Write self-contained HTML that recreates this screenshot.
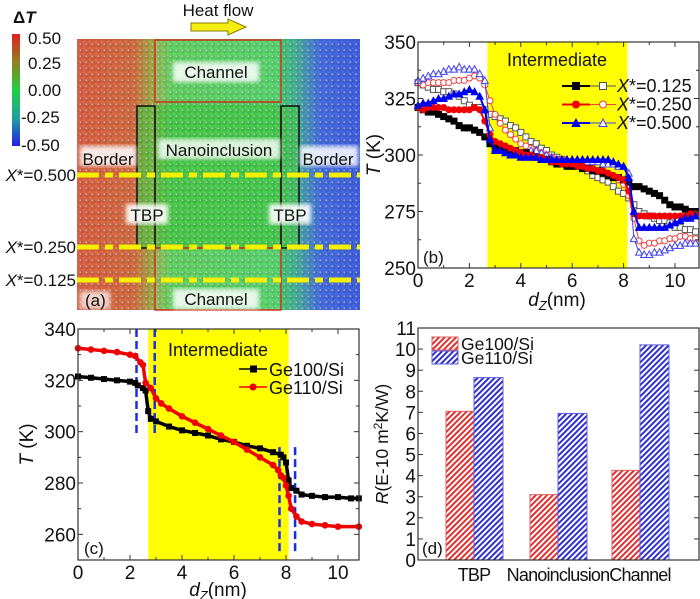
<!DOCTYPE html>
<html><head><meta charset="utf-8"><style>
body{margin:0;background:#fff;width:700px;height:599px;overflow:hidden;font-family:"Liberation Sans",sans-serif}
svg{position:absolute;left:0;top:0}
text{font-family:"Liberation Sans",sans-serif}
</style></head><body>
<svg id="fig" width="700" height="599">
<defs>
<linearGradient id="atomGrad" x1="0" x2="1" y1="0" y2="0">
<stop offset="0" stop-color="#d8401e"/><stop offset="0.2" stop-color="#d0501c"/><stop offset="0.27" stop-color="#8ea020"/><stop offset="0.33" stop-color="#30c830"/><stop offset="0.7" stop-color="#22cc40"/><stop offset="0.78" stop-color="#20a090"/><stop offset="0.86" stop-color="#2050e0"/><stop offset="1" stop-color="#1840e0"/>
</linearGradient>
<linearGradient id="cbGrad" x1="0" x2="0" y1="0" y2="1">
<stop offset="0" stop-color="#e02020"/><stop offset="0.25" stop-color="#908020"/><stop offset="0.5" stop-color="#20d040"/><stop offset="0.75" stop-color="#20a0a0"/><stop offset="1" stop-color="#2020e0"/>
</linearGradient>
<pattern id="dots" width="6" height="6" patternUnits="userSpaceOnUse">
<rect width="6" height="6" fill="rgba(255,255,255,0.18)"/><circle cx="3" cy="3" r="2.6" fill="rgba(0,0,0,0.12)"/><circle cx="2.3" cy="2.3" r="1" fill="rgba(255,255,255,0.45)"/>
</pattern>
<pattern id="hatchR" width="4" height="4" patternUnits="userSpaceOnUse" patternTransform="rotate(45)">
<rect width="4" height="4" fill="#fff"/><rect width="2" height="4" fill="#e03030"/></pattern>
<pattern id="hatchB" width="4" height="4" patternUnits="userSpaceOnUse" patternTransform="rotate(45)">
<rect width="4" height="4" fill="#fff"/><rect width="2" height="4" fill="#3030d0"/></pattern>
<filter id="glow"><feGaussianBlur stdDeviation="2"/></filter>
</defs>

<!-- Panel (a) -->
<g>
<rect x="77" y="39" width="283" height="271" fill="url(#atomGrad)"/>
<rect x="137" y="106" width="162" height="142" fill="#20c020" opacity="0.6"/>
<rect x="155" y="40" width="126" height="62" fill="#fff" opacity="0.1"/>
<rect x="155" y="248" width="126" height="62" fill="#fff" opacity="0.1"/>
<rect x="77" y="39" width="283" height="271" fill="url(#dots)"/>
<rect x="155" y="40" width="126" height="62" fill="none" stroke="#d03020" stroke-width="1.5"/>
<rect x="155" y="248" width="126" height="62" fill="none" stroke="#d03020" stroke-width="1.5"/>
<polyline points="155,106 155,248 281,248 281,106" fill="none" stroke="#d03020" stroke-width="1.5"/>
<rect x="137" y="106" width="18" height="142" fill="none" stroke="#111" stroke-width="1.5"/>
<rect x="281" y="106" width="18" height="142" fill="none" stroke="#111" stroke-width="1.5"/>
<g stroke="#f4f000" stroke-width="5" stroke-dasharray="22,6,8,6">
<line x1="77" y1="175" x2="360" y2="175"/><line x1="77" y1="247" x2="360" y2="247"/><line x1="77" y1="280" x2="360" y2="280"/></g>
<g font-size="17" fill="#111">
<rect x="173" y="62" width="86" height="20" fill="#fff" opacity="0.85" filter="url(#glow)"/>
<text x="216" y="78" text-anchor="middle">Channel</text>
<rect x="173" y="289" width="86" height="20" fill="#fff" opacity="0.85" filter="url(#glow)"/>
<text x="216" y="305" text-anchor="middle">Channel</text>
<rect x="158" y="139" width="122" height="20" fill="#fff" opacity="0.8" filter="url(#glow)"/>
<text x="219" y="156" text-anchor="middle">Nanoinclusion</text>
<rect x="80" y="146" width="56" height="20" fill="#fff" opacity="0.85" filter="url(#glow)"/>
<text x="108" y="165" text-anchor="middle">Border</text>
<rect x="300" y="146" width="58" height="20" fill="#fff" opacity="0.85" filter="url(#glow)"/>
<text x="328" y="165" text-anchor="middle">Border</text>
<rect x="126" y="204" width="42" height="20" fill="#fff" opacity="0.9" filter="url(#glow)"/>
<text x="147" y="221" text-anchor="middle">TBP</text>
<rect x="269" y="204" width="42" height="20" fill="#fff" opacity="0.9" filter="url(#glow)"/>
<text x="290" y="221" text-anchor="middle">TBP</text>
<rect x="80" y="291" width="30" height="18" fill="#fff" opacity="0.7" filter="url(#glow)"/>
<text x="85" y="306">(a)</text>
<text x="76" y="181" text-anchor="end"><tspan font-style="italic">X</tspan>*=0.500</text>
<text x="76" y="253" text-anchor="end"><tspan font-style="italic">X</tspan>*=0.250</text>
<text x="76" y="286" text-anchor="end"><tspan font-style="italic">X</tspan>*=0.125</text>
<text x="218" y="16" text-anchor="middle">Heat flow</text>
</g>
<polygon points="191,23 228,23 228,19 246,27 228,35 228,31 191,31" fill="#f4ee10" stroke="#8a7a00" stroke-width="1"/>
<rect x="12" y="34" width="8" height="112" fill="url(#cbGrad)"/>
<g font-size="17" fill="#111">
<text x="13" y="23" font-weight="bold" font-size="17">Δ<tspan font-style="italic">T</tspan></text>
<text x="28" y="44">0.50</text><text x="28" y="69">0.25</text><text x="28" y="96">0.00</text><text x="21" y="123">-0.25</text><text x="21" y="151">-0.50</text>
</g>
</g>

<g id="pb"></g>
<g id="pc"></g>
<g id="pd"></g>
</svg>
<script>
// ---------- Panel (b) data ----------
const dzB = [0,0.2,0.4,0.6,0.8,1.0,1.2,1.4,1.6,1.8,2.0,2.2,2.4,2.6,2.8,3.0,3.2,3.4,3.6,3.8,4.0,4.2,4.4,4.6,4.8,5.0,5.2,5.4,5.6,5.8,6.0,6.2,6.4,6.6,6.8,7.0,7.2,7.4,7.6,7.8,8.0,8.2,8.4,8.6,8.8,9.0,9.2,9.4,9.6,9.8,10.0,10.2,10.4,10.6,10.8];
const tB125f = [321,320,319,319,318,317,316,315,313,312,312,311,310,308,305,304,303,303,302,302,301,301,300,299,298,298,297,296,296,295,295,295,294,294,293,293,292,291,290,290,289,288,286,286,285,284,283,282,280,278,277,277,276,275,275];
const tB125o = [332,331,330,329,329,328,328,327,326,324,322,321,321,320,318,317,316,315,313,312,310,308,306,305,303,302,300,299,298,297,296,295,294,293,291,290,289,288,286,284,283,281,278,275,274,273,272,271,271,270,268,268,267,267,266];
const tB250f = [321,320,321,321,321,321,320,320,320,320,320,321,320,315,309,306,305,304,303,302,301,300,300,299,299,298,297,297,296,296,296,295,295,294,294,293,293,292,291,290,289,284,274,273,273,273,273,273,273,273,273,273,273,274,274];
const tB250o = [332,331,332,332,332,332,332,333,333,333,334,335,334,331,324,318,314,311,309,307,305,304,303,302,301,300,299,298,298,297,296,296,295,295,294,293,292,291,290,289,287,282,272,262,260,261,261,262,262,263,263,264,264,263,263];
const tB500f = [322,323,323,324,325,325,326,327,327,328,329,328,326,320,307,302,302,301,300,300,299,299,299,299,298,298,298,298,298,298,298,298,298,298,298,298,298,298,297,296,295,290,275,268,268,268,268,268,268,269,270,271,272,272,273];
const tB500o = [333,334,335,336,336,337,338,338,339,338,338,338,336,333,312,303,302,302,302,301,301,301,302,302,301,300,299,298,298,298,298,298,298,297,297,297,296,296,296,295,295,292,263,257,256,256,257,257,258,259,260,260,261,261,261];
const ticksBX = [0,2,4,6,8,10];
const ticksBY = [250,275,300,325,350];
const legendB = ["0.125","0.250","0.500"];
// ---------- Panel (c) data ----------
const dz100 = [0,0.5,1,1.5,2,2.2,2.3,2.5,2.6,2.7,2.8,3,3.5,4,4.5,5,5.5,6,6.5,7,7.5,7.8,7.9,8.0,8.1,8.2,8.4,8.6,9,9.5,10,10.5,10.8];
const t100 = [321.5,321,320.5,320,319.5,319,318,317,316,308,305,304,302,300.5,299.5,298.5,297,296,294.5,293.5,292,291,290,288,281,278,277,275.5,275,274.5,274.5,274,274];
const dz110 = [0,0.5,1,1.5,2,2.2,2.4,2.5,2.6,2.8,3,3.2,3.5,4,4.5,5,5.5,6,6.5,7,7.5,7.7,7.8,7.9,8.0,8.1,8.2,8.4,8.6,9,9.5,10,10.8];
const t110 = [332.5,332,331.5,331,330,329.5,327,326,319,317,313,311,309,306,303.5,301,298.5,296,293,290,287,285,283,282,279,275,270,267,265,264,263.5,263,263];
const dashesC = [2.25,2.95,7.75,8.35];
const ticksCX = [0,2,4,6,8,10];
const ticksCY = [260,280,300,320,340];
// ---------- Panel (d) data ----------
const catsD = ["TBP","Nanoinclusion","Channel"];
const rGe100 = [7.05,3.1,4.25];
const rGe110 = [8.65,6.95,10.2];
const ticksDY = [0,1,2,3,4,5,6,7,8,9,10,11];

const NS="http://www.w3.org/2000/svg";
const FS=19;
function mk(parent,tag,attrs,txt){const e=document.createElementNS(NS,tag);for(const k in attrs)e.setAttribute(k,attrs[k]);if(txt!==undefined)e.textContent=txt;parent.appendChild(e);return e;}

// ===== Panel B =====
(function(){
const g=document.getElementById('pb');
const X0=418,X1=699,Y0=42,Y1=268;
const sx=d=>X0+(d-0)*(675-418)/10, sy=t=>Y1-(t-250)*(Y1-Y0)/100;
const band=mk(g,'rect',{x:sx(2.7),y:Y0,width:sx(8.15)-sx(2.7),height:Y1-Y0,fill:'#ffff00'});


const it=mk(g,'text',{x:557,y:66,'font-size':18,'text-anchor':'middle',fill:'#111'},'Intermediate');


const series=[[tB125o,'#555','sq',false],[tB250o,'#f04040','ci',false],[tB500o,'#4040f0','tr',false],[tB125f,'#000','sq',true],[tB250f,'#f00000','ci',true],[tB500f,'#0000f0','tr',true]];
const names=['series-x0125-open','series-x0250-open','series-x0500-open','series-x0125-filled','series-x0250-filled','series-x0500-filled'];
series.forEach((s,si)=>{
 const grp=mk(g,'g',{});
 
 
 const pts=s[0].map((t,i)=>sx(dzB[i])+','+sy(t)).join(' ');
 mk(grp,'polyline',{points:pts,fill:'none',stroke:s[1],'stroke-width':s[3]?2:1});
 s[0].forEach((t,i)=>{marker(grp,s[2],sx(dzB[i]),sy(t),s[1],s[3],3);});
});
function marker(p,type,x,y,c,f,r){const a={fill:f?c:'#fff',stroke:c,'stroke-width':1};
 if(type==='sq')a.x=x-r,a.y=y-r,a.width=2*r,a.height=2*r;
 if(type==='ci'){a.cx=x;a.cy=y;a.r=r;}
 if(type==='tr')a.points=`${x},${y-r-0.5} ${x-r-0.5},${y+r} ${x+r+0.5},${y+r}`;
 const m=mk(p,type==='sq'?'rect':type==='ci'?'circle':'polygon',a);
 
 }
mk(g,'rect',{x:X0,y:Y0,width:X1-X0,height:Y1-Y0,fill:'none',stroke:'#333','stroke-width':1.2});
for(let v=0;v<=11;v++){const L=v%2===0?5:3;mk(g,'line',{x1:sx(v),x2:sx(v),y1:Y1,y2:Y1-L,stroke:'#333'});mk(g,'line',{x1:sx(v),x2:sx(v),y1:Y0,y2:Y0+L,stroke:'#333'});}
for(let v=250;v<=350;v+=12.5){const L=v%25===0?5:3;mk(g,'line',{x1:X0,x2:X0+L,y1:sy(v),y2:sy(v),stroke:'#333'});mk(g,'line',{x1:X1,x2:X1-L,y1:sy(v),y2:sy(v),stroke:'#333'});}
ticksBX.forEach(v=>{const t=mk(g,'text',{x:sx(v),y:Y1+19,'font-size':FS,'text-anchor':'middle',fill:'#111'},String(v));
 
 });
ticksBY.forEach(v=>{const t=mk(g,'text',{x:X0-2,y:sy(v)+7,'font-size':FS,'text-anchor':'end',fill:'#111'},String(v));
 
 });
const xt=mk(g,'text',{x:557,y:Y1+38,'font-size':FS,'text-anchor':'middle',fill:'#111'});


xt.innerHTML='<tspan font-style="italic">d</tspan><tspan font-size="13" dy="4" font-style="italic">Z</tspan><tspan dy="-4">(nm)</tspan>';
const yt=mk(g,'text',{x:0,y:0,'font-size':FS,'text-anchor':'middle',fill:'#111',transform:`translate(${X0-38},${sy(300)}) rotate(-90)`});


yt.innerHTML='<tspan font-style="italic">T</tspan> (K)';
const pl=mk(g,'text',{x:423,y:263,'font-size':17,fill:'#111'},'(b)');


const cols=[['#000','#555','sq'],['#f00000','#f04040','ci'],['#0000f0','#4040f0','tr']];
legendB.forEach((lab,i)=>{const y=86+i*18.5;const lg=mk(g,'g',{});
 
 
 mk(lg,'line',{x1:562,x2:590,y1:y,y2:y,stroke:cols[i][0],'stroke-width':2});
 mk(lg,'line',{x1:590,x2:616,y1:y,y2:y,stroke:cols[i][1],'stroke-width':1});
 marker(lg,cols[i][2],576,y,cols[i][0],true,3.5);marker(lg,cols[i][2],603,y,cols[i][1],false,3.5);
 const t=mk(lg,'text',{x:617,y:y+6,'font-size':18,fill:'#111'});
 t.innerHTML='<tspan font-style="italic">X</tspan>*='+lab;});
})();

// ===== Panel C =====
(function(){
const g=document.getElementById('pc');
const X0=78,X1=359,Y0=329,Y1=560;
const sx=d=>X0+d*26, sy=t=>Y1-(t-250)*(Y1-Y0)/90;
const band=mk(g,'rect',{x:sx(2.7),y:Y0,width:sx(8.1)-sx(2.7),height:Y1-Y0,fill:'#ffff00'});


const it=mk(g,'text',{x:218,y:356,'font-size':18,'text-anchor':'middle',fill:'#111'},'Intermediate');


const dr=[[299,340],[299,340],[252,294],[252,294]];
dashesC.forEach((d,i)=>{const l=mk(g,'line',{x1:sx(d),x2:sx(d),y1:sy(dr[i][1]),y2:sy(dr[i][0]),stroke:'#1a2ee0','stroke-width':2.5,'stroke-dasharray':'8,4'});
 
 });
[[dz100,t100,'#000','series-ge100','sq'],[dz110,t110,'#f00000','series-ge110','ci']].forEach(s=>{
 const grp=mk(g,'g',{});
 
 
 mk(grp,'polyline',{points:s[1].map((t,i)=>sx(s[0][i])+','+sy(t)).join(' '),fill:'none',stroke:s[2],'stroke-width':3.5,'stroke-linejoin':'round'});
 s[1].forEach((t,i)=>{const x=sx(s[0][i]),y=sy(t);
  const m=s[4]==='sq'?mk(grp,'rect',{x:x-3,y:y-3,width:6,height:6,fill:s[2]}):mk(grp,'circle',{cx:x,cy:y,r:3.3,fill:s[2]});
  
  });
});
mk(g,'rect',{x:X0,y:Y0,width:X1-X0,height:Y1-Y0,fill:'none',stroke:'#333','stroke-width':1.2});
for(let v=0;v<=10;v++){const L=v%2===0?5:3;mk(g,'line',{x1:sx(v),x2:sx(v),y1:Y1,y2:Y1-L,stroke:'#333'});mk(g,'line',{x1:sx(v),x2:sx(v),y1:Y0,y2:Y0+L,stroke:'#333'});}
for(let v=250;v<=340;v+=10){const L=v%20===0?5:3;mk(g,'line',{x1:X0,x2:X0+L,y1:sy(v),y2:sy(v),stroke:'#333'});mk(g,'line',{x1:X1,x2:X1-L,y1:sy(v),y2:sy(v),stroke:'#333'});}
ticksCX.forEach(v=>{const t=mk(g,'text',{x:sx(v),y:Y1+19,'font-size':FS,'text-anchor':'middle',fill:'#111'},String(v));
 
 });
ticksCY.forEach(v=>{const t=mk(g,'text',{x:X0-2,y:sy(v)+7,'font-size':FS,'text-anchor':'end',fill:'#111'},String(v));
 
 });
const xt=mk(g,'text',{x:218,y:Y1+36,'font-size':FS,'text-anchor':'middle',fill:'#111'});


xt.innerHTML='<tspan font-style="italic">d</tspan><tspan font-size="13" dy="4" font-style="italic">Z</tspan><tspan dy="-4">(nm)</tspan>';
const yt=mk(g,'text',{x:0,y:0,'font-size':FS,'text-anchor':'middle',fill:'#111',transform:`translate(${X0-45},${sy(295)}) rotate(-90)`});


yt.innerHTML='<tspan font-style="italic">T</tspan> (K)';
const pl=mk(g,'text',{x:84,y:554,'font-size':17,fill:'#111'},'(c)');


[['Ge100/Si','#000','sq',369],['Ge110/Si','#f00000','ci',387]].forEach(e=>{const lg=mk(g,'g',{});
 
 
 mk(lg,'line',{x1:239,x2:267,y1:e[3],y2:e[3],stroke:e[1],'stroke-width':1.5});
 if(e[2]==='sq')mk(lg,'rect',{x:250,y:e[3]-3.5,width:7,height:7,fill:e[1]});else mk(lg,'circle',{cx:253,cy:e[3],r:3.5,fill:e[1]});
 mk(lg,'text',{x:269,y:e[3]+7,'font-size':18,fill:'#111'},e[0]);});
})();

// ===== Panel D =====
(function(){
const g=document.getElementById('pd');
const X0=418,X1=699,Y0=328,Y1=560;
const sy=v=>Y1-v*(Y1-Y0)/11;
const cx=[474,558,640], bw=28;
catsD.forEach((c,i)=>{
 const r1=mk(g,'rect',{x:cx[i]-bw,y:sy(rGe100[i]),width:bw,height:Y1-sy(rGe100[i]),fill:'url(#hatchR)',stroke:'#e06060','stroke-width':1});
 
 
 const r2=mk(g,'rect',{x:cx[i],y:sy(rGe110[i]),width:bw+1,height:Y1-sy(rGe110[i]),fill:'url(#hatchB)',stroke:'#6060e0','stroke-width':1});
 
 
 const t=mk(g,'text',{x:cx[i],y:Y1+21,'font-size':18,'text-anchor':'middle',fill:'#111','letter-spacing':'-0.8'},c);
 
 
});
mk(g,'rect',{x:X0,y:Y0,width:X1-X0,height:Y1-Y0,fill:'none',stroke:'#333','stroke-width':1.2});
ticksDY.forEach(v=>{mk(g,'line',{x1:X0,x2:X0+5,y1:sy(v),y2:sy(v),stroke:'#333'});mk(g,'line',{x1:X1,x2:X1-5,y1:sy(v),y2:sy(v),stroke:'#333'});
 const t=mk(g,'text',{x:X0-2,y:sy(v)+7,'font-size':FS,'text-anchor':'end',fill:'#111'},String(v));
 
 });
const yt=mk(g,'text',{x:0,y:0,'font-size':17.5,'text-anchor':'middle',fill:'#111',transform:`translate(${X0-30},${sy(5.5)}) rotate(-90)`});


yt.innerHTML='<tspan font-style="italic">R</tspan>(E-10 m<tspan font-size="12" dy="-6">2</tspan><tspan dy="6">K/W)</tspan>';
const pl=mk(g,'text',{x:422,y:554,'font-size':17,fill:'#111'},'(d)');


[['Ge100/Si','url(#hatchR)','#e06060',337],['Ge110/Si','url(#hatchB)','#6060e0',351]].forEach(e=>{const lg=mk(g,'g',{});
 
 
 mk(lg,'rect',{x:432,y:e[3],width:26,height:13,fill:e[1],stroke:e[2]});
 mk(lg,'text',{x:461,y:e[3]+13,'font-size':17.5,fill:'#111'},e[0]);});
})();
</script>
</body></html>
